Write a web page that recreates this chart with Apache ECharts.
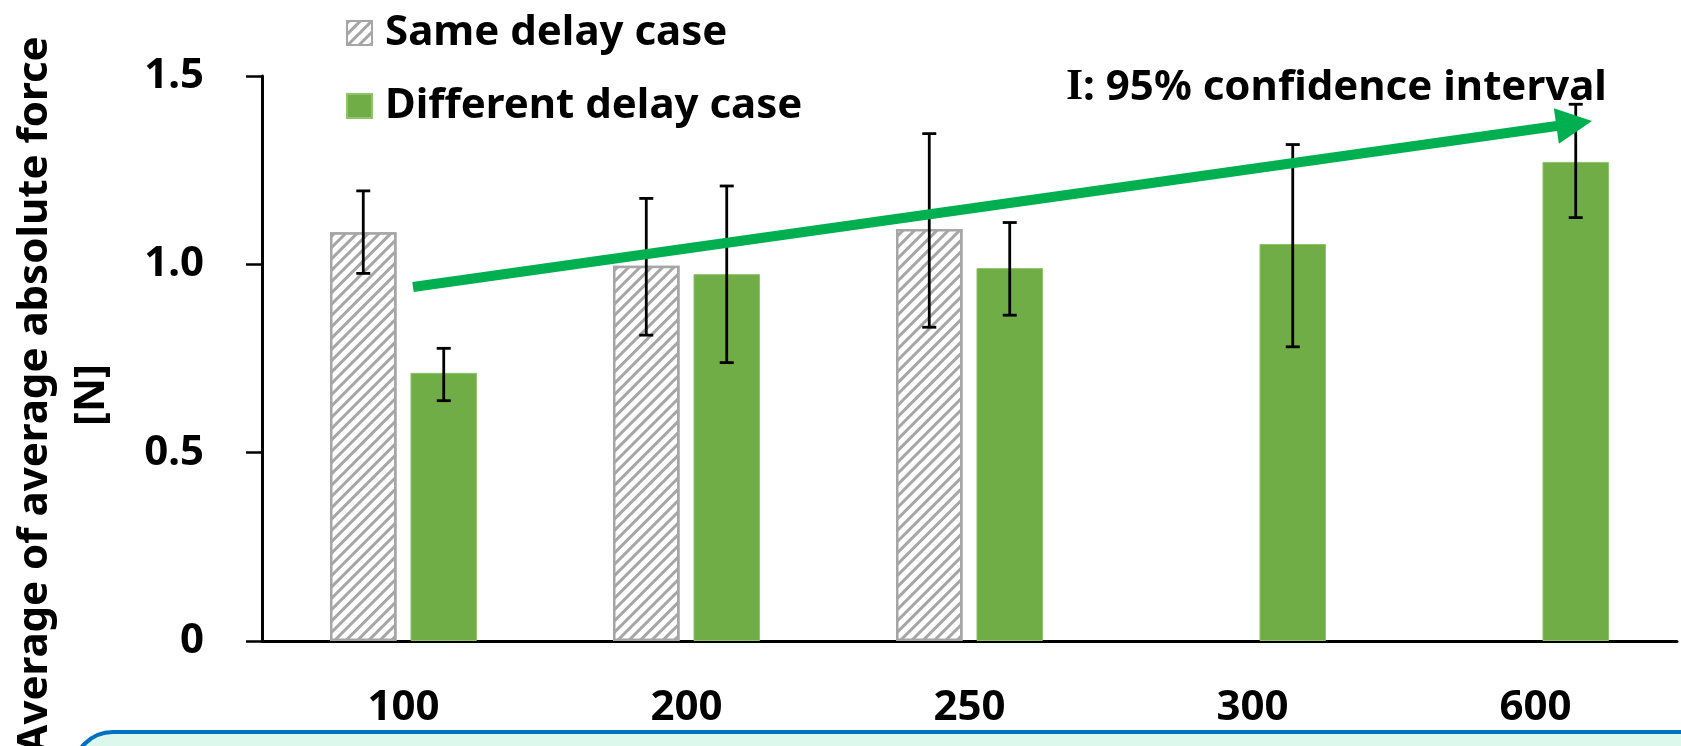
<!DOCTYPE html>
<html>
<head>
<meta charset="utf-8">
<script src="https://cdn.jsdelivr.net/npm/echarts@6/dist/echarts.min.js"></script>
<style>
  html, body { margin: 0; padding: 0; background: #fff; }
  #chart { width: 1681px; height: 746px; }
</style>
</head>
<body>
<div id="chart"></div>
<script>
// delay categories [ms]
const categories = ['100', '200', '250', '300', '600'];

// same delay case (no data for 300, 600)
const sameMean = [1.085, 0.996, 1.094, null, null];
const sameLow  = [0.976, 0.812, 0.833, null, null];
const sameHigh = [1.195, 1.175, 1.347, null, null];

// different delay case
const diffMean = [0.712, 0.974, 0.990, 1.054, 1.272];
const diffLow  = [0.638, 0.739, 0.865, 0.781, 1.124];
const diffHigh = [0.777, 1.208, 1.111, 1.318, 1.425];

const yTicks = [0, 0.5, 1.0, 1.5];

const FONT = 'Noto Sans';
const BAR_W = 0.235;
const BAR_GAP = 0.21;

function errData(low, high) {
  const out = [];
  low.forEach((v, i) => {
    if (v != null) out.push([i, v, high[i]]);
  });
  return out;
}

// 误差线
function errorBar(side) {
  return function (params, api) {
    const band = api.size([1, 0])[0];
    const bw = band * BAR_W;
    const off = side * (bw + bw * BAR_GAP) / 2;
    const lo = api.coord([api.value(0), api.value(1)]);
    const hi = api.coord([api.value(0), api.value(2)]);
    const x = lo[0] + off;
    const cap = 7;
    const style = { stroke: '#000', lineWidth: 2.8 };
    return {
      type: 'group',
      children: [
        { type: 'line', shape: { x1: x, y1: hi[1], x2: x, y2: lo[1] }, style: style },
        { type: 'line', shape: { x1: x - cap, y1: hi[1], x2: x + cap, y2: hi[1] }, style: style },
        { type: 'line', shape: { x1: x - cap, y1: lo[1], x2: x + cap, y2: lo[1] }, style: style }
      ]
    };
  };
}

// 箭头
function arrow(x1, y1, x2, y2, headLen, headHalf, color) {
  const dx = x2 - x1, dy = y2 - y1;
  const len = Math.sqrt(dx * dx + dy * dy);
  const ux = dx / len, uy = dy / len;
  const px = -uy, py = ux;
  const bx = x2 - ux * headLen, by = y2 - uy * headLen;
  return [
    { type: 'line', z: 20, shape: { x1: x1, y1: y1, x2: bx + ux * 2, y2: by + uy * 2 },
      style: { stroke: color, lineWidth: 10 } },
    { type: 'polygon', z: 20,
      shape: { points: [[x2, y2], [bx + px * headHalf, by + py * headHalf], [bx - px * headHalf, by - py * headHalf]] },
      style: { fill: color } }
  ];
}

const chart = echarts.init(document.getElementById('chart'));
chart.setOption({
  animation: false,
  textStyle: { fontFamily: FONT },
  grid: { left: 262, right: 4, top: 76, bottom: 105 },
  legend: {
    orient: 'vertical',
    left: 341,
    top: 2,
    icon: 'rect',
    itemWidth: 25,
    itemHeight: 24,
    itemGap: 21,
    data: ['Same delay case', 'Different delay case'],
    textStyle: { fontFamily: FONT, fontSize: 42, fontWeight: 'bold', color: '#000', lineHeight: 52, padding: [0, 0, 0, 8] }
  },
  xAxis: {
    type: 'category',
    data: categories,
    axisLine: { lineStyle: { color: '#000', width: 3 } },
    axisTick: { show: false },
    axisLabel: { fontFamily: FONT, fontSize: 42, fontWeight: 'bold', color: '#000', margin: 46, lineHeight: 42 }
  },
  yAxis: {
    type: 'value',
    min: 0,
    max: 1.5,
    interval: 0.5,
    axisLine: { show: true, lineStyle: { color: '#000', width: 3 } },
    axisTick: { show: true, length: 16, lineStyle: { color: '#000', width: 2.5 } },
    splitLine: { show: false },
    axisLabel: {
      fontFamily: FONT, fontSize: 42, fontWeight: 'bold', color: '#000', margin: 58,
      formatter: v => (yTicks.indexOf(v) >= 0 ? (v === 0 ? '0' : v.toFixed(1)) : '')
    }
  },
  series: [
    {
      name: 'Same delay case',
      type: 'bar',
      barWidth: (BAR_W * 100) + '%',
      barGap: (BAR_GAP * 100) + '%',
      data: sameMean,
      itemStyle: {
        color: '#fff',
        borderColor: '#a6a6a6',
        borderWidth: 2.5,
        decal: {
          symbol: 'rect',
          color: '#a6a6a6',
          backgroundColor: '#fff',
          dashArrayX: [1, 0],
          dashArrayY: [3, 5],
          symbolSize: 1,
          rotation: -Math.PI / 4
        }
      }
    },
    {
      name: 'Different delay case',
      type: 'bar',
      barWidth: (BAR_W * 100) + '%',
      barGap: (BAR_GAP * 100) + '%',
      data: diffMean,
      itemStyle: { color: '#70ad47', borderColor: '#8fc46a', borderWidth: 1 }
    },
    {
      type: 'custom',
      name: 'sameErr',
      renderItem: errorBar(-1),
      encode: { x: 0, y: [1, 2] },
      data: errData(sameLow, sameHigh),
      z: 10
    },
    {
      type: 'custom',
      name: 'diffErr',
      renderItem: errorBar(1),
      encode: { x: 0, y: [1, 2] },
      data: errData(diffLow, diffHigh),
      z: 10
    }
  ],
  graphic: [
    {
      type: 'text',
      x: 64,
      y: 395,
      rotation: Math.PI / 2,
      style: {
        text: 'Average of average absolute force\n[N]',
        font: 'bold 42px "Noto Sans"',
        fill: '#000',
        align: 'center',
        verticalAlign: 'middle',
        lineHeight: 57
      }
    },
    {
      type: 'text',
      x: 1066,
      y: 88,
      style: {
        rich: {
          i: { fontFamily: 'Liberation Serif', fontWeight: 'bold', fontSize: 44, fill: '#000' },
          t: { fontFamily: FONT, fontWeight: 'bold', fontSize: 42, fill: '#000' }
        },
        text: '{i|I}{t|: 95% confidence interval}',
        verticalAlign: 'middle'
      },
      z: 15
    },
    ...arrow(413, 287, 1592, 121, 36, 18, '#00b050'),
    {
      type: 'rect',
      shape: { x: 73, y: 732, width: 1700, height: 80, r: 40 },
      style: { fill: '#dcf7ec', stroke: '#0070c0', lineWidth: 4 },
      z: 30
    }
  ]
});
</script>
</body>
</html>
